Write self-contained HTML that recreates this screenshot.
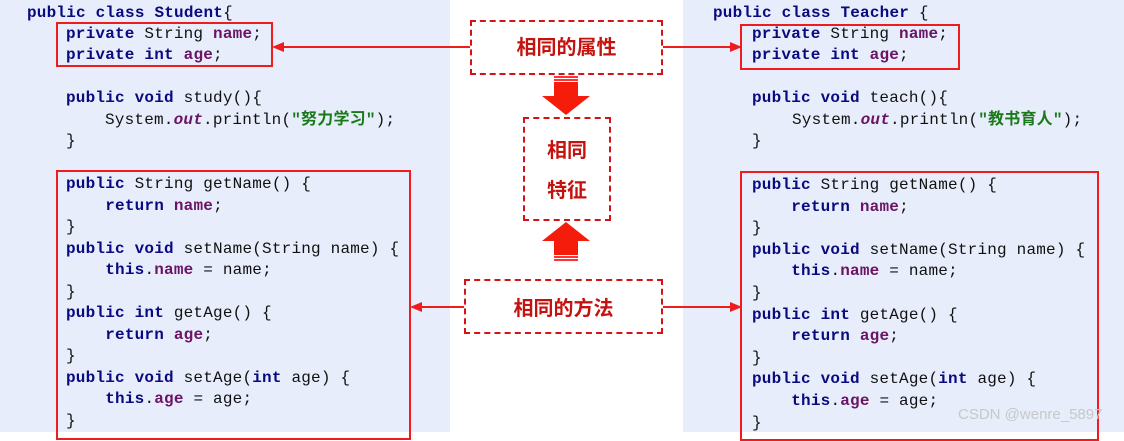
<!DOCTYPE html>
<html><head><meta charset="utf-8"><style>
body{margin:0;width:1124px;height:432px;overflow:hidden;background:#fff;position:relative;font-family:"Liberation Mono","Noto Sans CJK SC",monospace;}
.p{position:absolute;top:0;height:432px;background:#e7edfb}
.l{position:absolute;font-size:16px;letter-spacing:0.2px;color:#111;white-space:pre;line-height:20px}
.k{color:#0a0a80;font-weight:bold}
.f{color:#6a1463;font-weight:bold}
.o{color:#6a1463;font-weight:bold;font-style:italic}
.s{color:#1a7a1a;font-weight:bold}
.box{position:absolute;border:2px solid #ee1c1c;box-sizing:border-box}
.dash{position:absolute;border:2px dashed #d41414;box-sizing:border-box;color:#c4120e;font-family:"Noto Sans CJK SC",sans-serif;font-weight:bold;font-size:20px;display:flex;align-items:center;justify-content:center;background:#fff}
.ln{position:absolute;height:2px;background:#ee1c1c}
</style></head><body>
<div class="p" style="left:0;width:450px"></div>
<div class="p" style="left:683px;width:441px"></div>

<div class="l" style="left:27px;top:3px"><span class="k">public class</span> <span class="k">Student</span>{</div>
<div class="l" style="left:66px;top:24px"><span class="k">private</span> String <span class="f">name</span>;</div>
<div class="l" style="left:66px;top:45px"><span class="k">private int</span> <span class="f">age</span>;</div>
<div class="l" style="left:66px;top:88px"><span class="k">public void</span> study(){</div>
<div class="l" style="left:105px;top:110px">System.<span class="o">out</span>.println(<span class="s">"努力学习"</span>);</div>
<div class="l" style="left:66px;top:131px">}</div>

<div class="l" style="left:713px;top:3px"><span class="k">public class</span> <span class="k">Teacher</span> {</div>
<div class="l" style="left:752px;top:24px"><span class="k">private</span> String <span class="f">name</span>;</div>
<div class="l" style="left:752px;top:45px"><span class="k">private int</span> <span class="f">age</span>;</div>
<div class="l" style="left:752px;top:88px"><span class="k">public void</span> teach(){</div>
<div class="l" style="left:792px;top:110px">System.<span class="o">out</span>.println(<span class="s">"教书育人"</span>);</div>
<div class="l" style="left:752px;top:131px">}</div>

<div class="l" style="left:66px;top:174px"><span class="k">public</span> String getName() {
    <span class="k">return</span> <span class="f">name</span>;
}
<span class="k">public void</span> setName(String name) {
    <span class="k">this</span>.<span class="f">name</span> = name;
}
<span class="k">public int</span> getAge() {
    <span class="k">return</span> <span class="f">age</span>;
}
<span class="k">public void</span> setAge(<span class="k">int</span> age) {
    <span class="k">this</span>.<span class="f">age</span> = age;
}</div>
<div class="l" style="left:752px;top:175px;line-height:21.6px"><span class="k">public</span> String getName() {
    <span class="k">return</span> <span class="f">name</span>;
}
<span class="k">public void</span> setName(String name) {
    <span class="k">this</span>.<span class="f">name</span> = name;
}
<span class="k">public int</span> getAge() {
    <span class="k">return</span> <span class="f">age</span>;
}
<span class="k">public void</span> setAge(<span class="k">int</span> age) {
    <span class="k">this</span>.<span class="f">age</span> = age;
}</div>
<style>.l[style*="top:174px"]{line-height:21.5px}</style>

<div class="box" style="left:56px;top:22px;width:217px;height:45px"></div>
<div class="box" style="left:740px;top:24px;width:220px;height:46px"></div>
<div class="box" style="left:56px;top:170px;width:355px;height:270px"></div>
<div class="box" style="left:740px;top:171px;width:359px;height:270px"></div>

<div class="ln" style="left:280px;top:46px;width:190px"></div>
<svg style="position:absolute;left:272px;top:42px" width="12" height="10"><polygon points="0,5 12,0 12,10" fill="#ee1c1c"/></svg>
<div class="ln" style="left:662px;top:46px;width:70px"></div>
<svg style="position:absolute;left:730px;top:42px" width="12" height="10"><polygon points="12,5 0,0 0,10" fill="#ee1c1c"/></svg>
<div class="ln" style="left:418px;top:306px;width:46px"></div>
<svg style="position:absolute;left:410px;top:302px" width="12" height="10"><polygon points="0,5 12,0 12,10" fill="#ee1c1c"/></svg>
<div class="ln" style="left:662px;top:306px;width:70px"></div>
<svg style="position:absolute;left:730px;top:302px" width="12" height="10"><polygon points="12,5 0,0 0,10" fill="#ee1c1c"/></svg>

<div class="dash" style="left:470px;top:20px;width:193px;height:55px;padding-bottom:4px">相同的属性</div>
<div class="dash" style="left:523px;top:117px;width:88px;height:104px;flex-direction:column;line-height:40px">相同<br>特征</div>
<div class="dash" style="left:464px;top:279px;width:199px;height:55px">相同的方法</div>

<svg style="position:absolute;left:542px;top:76px" width="48" height="40"><rect x="12" y="0" width="24" height="2" fill="#f33"/><rect x="12" y="3" width="24" height="2" fill="#f33"/><rect x="12" y="6" width="24" height="14" fill="#f51c0c"/><polygon points="0,20 48,20 24,39" fill="#f51c0c"/></svg>
<svg style="position:absolute;left:542px;top:222px" width="48" height="40"><polygon points="0,19 48,19 24,0" fill="#f51c0c"/><rect x="12" y="19" width="24" height="14" fill="#f51c0c"/><rect x="12" y="34" width="24" height="2" fill="#f33"/><rect x="12" y="37" width="24" height="2" fill="#f33"/></svg>

<div style="position:absolute;left:958px;top:406px;font-family:'Liberation Sans',sans-serif;font-size:15px;color:#c8c8c8">CSDN @wenre_5897</div>
</body></html>
